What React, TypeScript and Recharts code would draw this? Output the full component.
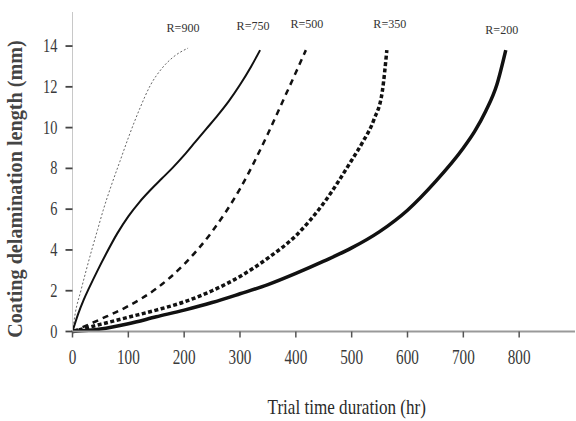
import { LineChart, Line, XAxis, YAxis, LabelList, Label } from "recharts";

// trial time (hr) and coating delamination length (mm)
const r900Hours = [0, 5, 15, 25, 35, 45, 55, 70, 85, 100, 120, 140, 160, 180, 207];
const r900Length = [0, 0.9, 2, 3.05, 4.05, 5, 5.95, 7.2, 8.35, 9.5, 10.9, 12.1, 12.9, 13.45, 13.9];

const r750Hours = [0, 10, 20, 30, 45, 60, 80, 100, 120, 140, 160, 180, 200, 220, 240, 260, 280, 300, 320, 336];
const r750Length = [0, 0.85, 1.55, 2.15, 3.0, 3.8, 4.8, 5.65, 6.35, 6.95, 7.5, 8.05, 8.65, 9.3, 9.95, 10.6, 11.3, 12.1, 13.0, 13.8];

const r500Hours = [0, 50, 100, 150, 200, 250, 300, 350, 380, 400, 418];
const r500Length = [0, 0.6, 1.25, 2.1, 3.3, 4.9, 7.0, 9.7, 11.5, 12.7, 13.8];

const r350Hours = [0, 50, 100, 150, 200, 250, 300, 350, 400, 450, 500, 520, 540, 555, 563];
const r350Length = [0, 0.35, 0.7, 1.05, 1.45, 2.0, 2.7, 3.6, 4.7, 6.3, 8.4, 9.3, 10.4, 11.8, 13.8];

const r200Hours = [0, 50, 100, 150, 200, 250, 300, 350, 400, 450, 500, 550, 600, 650, 700, 720, 740, 760, 776];
const r200Length = [0, 0.12, 0.38, 0.72, 1.05, 1.42, 1.85, 2.3, 2.85, 3.45, 4.1, 4.9, 5.95, 7.35, 9.0, 9.8, 10.8, 12.1, 13.8];

const xTicks = [0, 100, 200, 300, 400, 500, 600, 700, 800];
const yTicks = [0, 2, 4, 6, 8, 10, 12, 14];

const toPoints = (hours: number[], lengths: number[]) =>
  hours.map((h, i) => ({ h, v: lengths[i] }));

const series = [
  { name: "R=900", data: toPoints(r900Hours, r900Length), stroke: "#666", width: 1, dash: "2 2", dx: -5, dy: -16 },
  { name: "R=750", data: toPoints(r750Hours, r750Length), stroke: "#111", width: 2, dash: undefined, dx: -7, dy: -20 },
  { name: "R=500", data: toPoints(r500Hours, r500Length), stroke: "#111", width: 2.5, dash: "6 5", dx: 1, dy: -22 },
  { name: "R=350", data: toPoints(r350Hours, r350Length), stroke: "#111", width: 3.5, dash: "4 2.5", dx: 3, dy: -22 },
  { name: "R=200", data: toPoints(r200Hours, r200Length), stroke: "#111", width: 3.5, dash: undefined, dx: -4, dy: -16 },
];

const FONT = "'Liberation Serif', 'DejaVu Serif', serif";

// the source figure uses a tall, narrow serif; squeeze it with textLength
function Squeezed({ x, y, text, size, charW, anchor = "middle", fill = "#333", weight = "normal", rotate = 0 }: any) {
  return (
    <text
      x={x}
      y={y}
      fontFamily={FONT}
      fontSize={size}
      fontWeight={weight}
      fill={fill}
      textAnchor={anchor}
      textLength={text.length * charW}
      lengthAdjust="spacingAndGlyphs"
      transform={rotate ? `rotate(${rotate} ${x} ${y})` : undefined}
    >
      {text}
    </text>
  );
}

const XTick = (p: any) => (
  <Squeezed x={p.x} y={p.y + 14} text={String(p.payload.value)} size={21} charW={7.6} fill="#3a3a3a" />
);

const YTick = (p: any) => (
  <Squeezed x={p.x} y={p.y + 6} text={String(p.payload.value)} size={18} charW={7.2} anchor="end" fill="#3a3a3a" />
);

export default function App() {
  return (
    <div style={{ position: "absolute", left: 0, top: 0, background: "#fff" }}>
      <LineChart
        width={576}
        height={421}
        margin={{ top: 12, right: 1, bottom: 49.5, left: 27.5 }}
      >
        <XAxis
          type="number"
          dataKey="h"
          domain={[0, 900]}
          ticks={xTicks}
          allowDuplicatedCategory={false}
          height={40}
          axisLine={{ stroke: "#999", strokeWidth: 2 }}
          tickLine={{ stroke: "#555", strokeWidth: 1.5 }}
          tickSize={6}
          tickMargin={12}
          tick={XTick}
        >
          <Label
            content={(p: any) => (
              <Squeezed
                x={p.viewBox.x + p.viewBox.width / 2 + 23}
                y={p.viewBox.y + 82}
                text="Trial time duration (hr)"
                size={21}
                charW={6.6}
                fill="#2a2a2a"
              />
            )}
          />
        </XAxis>
        <YAxis
          type="number"
          dataKey="v"
          domain={[0, 15.67]}
          ticks={yTicks}
          width={45}
          axisLine={{ stroke: "#c8c8c8", strokeWidth: 1 }}
          tickLine={{ stroke: "#444", strokeWidth: 1.8 }}
          tickSize={7}
          tickMargin={8}
          tick={YTick}
        >
          <Label
            content={() => (
              <Squeezed
                x={22}
                y={189}
                text="Coating delamination length (mm)"
                size={20}
                charW={9.3}
                weight="bold"
                fill="#444"
                rotate={-90}
              />
            )}
          />
        </YAxis>
        {series.map((s) => (
          <Line
            key={s.name}
            data={s.data}
            dataKey="v"
            type="monotone"
            stroke={s.stroke}
            strokeWidth={s.width}
            strokeDasharray={s.dash}
            dot={false}
            activeDot={false}
            isAnimationActive={false}
          >
            <LabelList
              dataKey="v"
              content={(p: any) =>
                p.index === s.data.length - 1 ? (
                  <Squeezed
                    x={p.x + s.dx}
                    y={p.y + s.dy}
                    text={s.name}
                    size={13}
                    charW={6.6}
                    fill="#333"
                  />
                ) : null
              }
            />
          </Line>
        ))}
      </LineChart>
    </div>
  );
}
